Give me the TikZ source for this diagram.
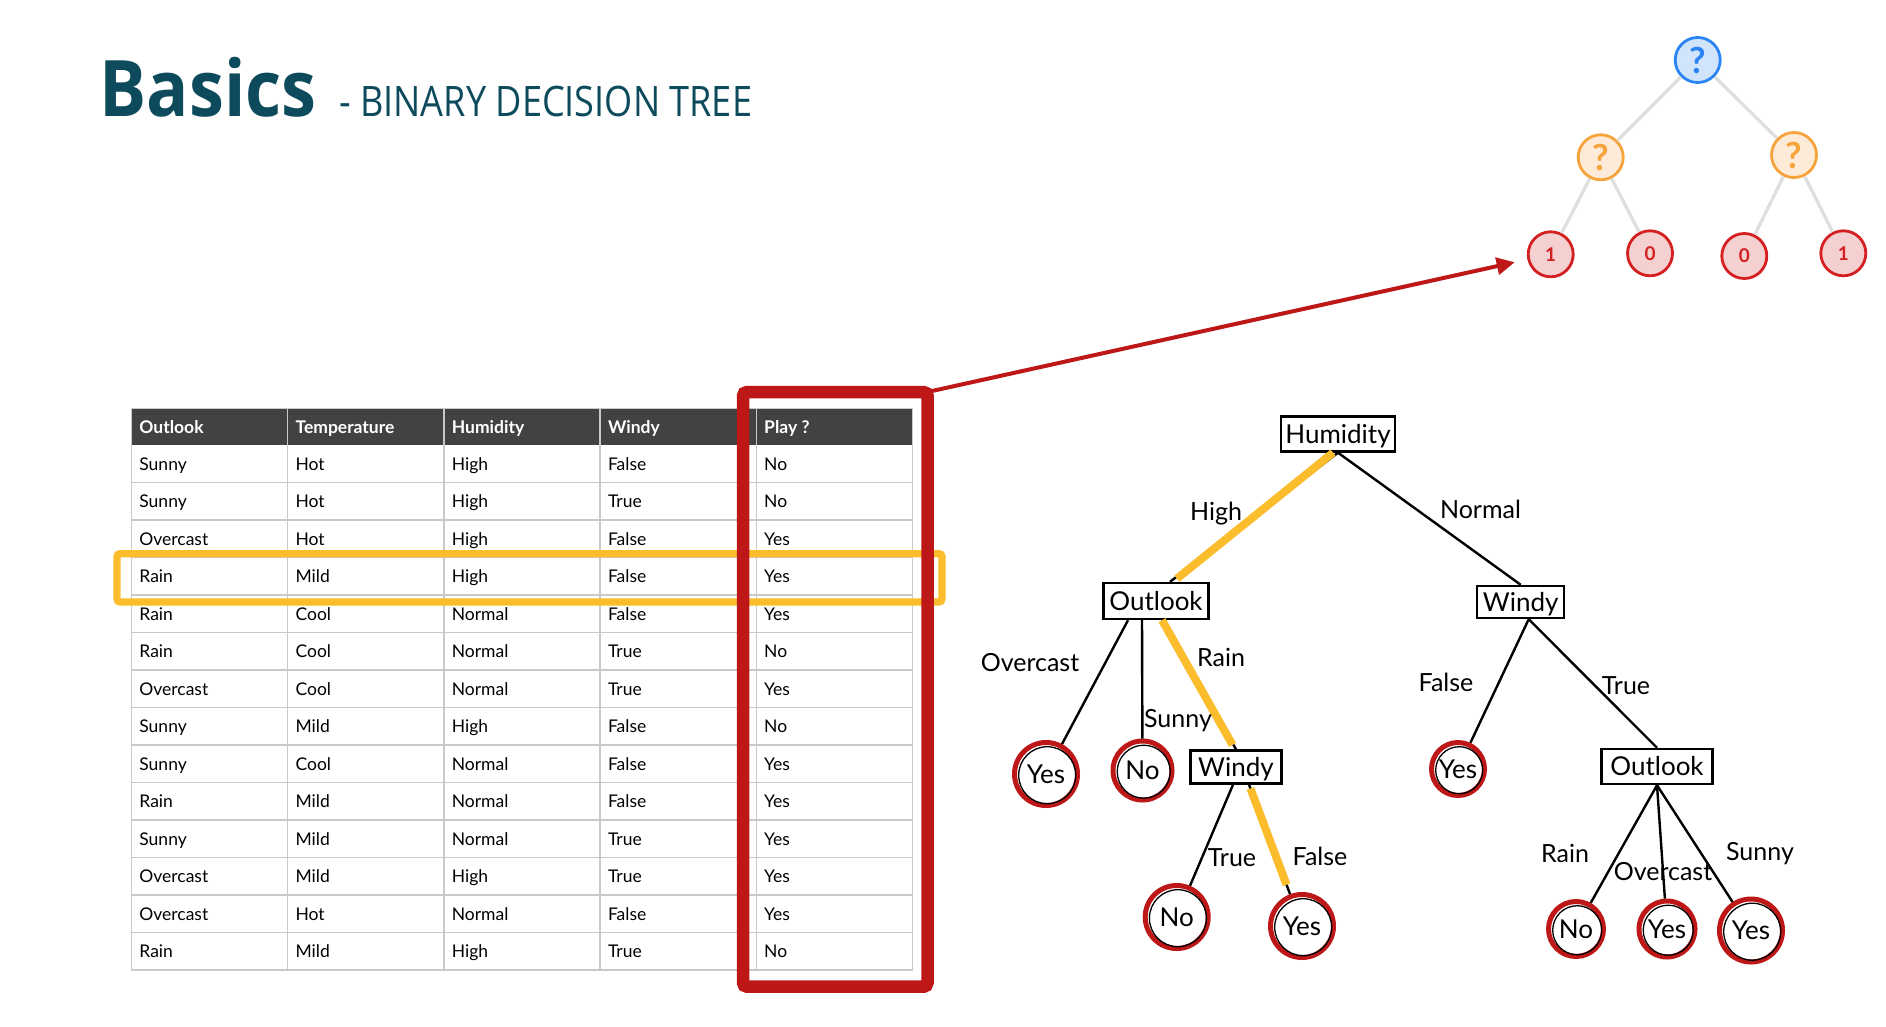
\documentclass[tikz,border=0pt]{standalone}
\usepackage{fontspec}
\setmainfont{Lato}
\newfontfamily\titlefontB[FakeStretch=0.9]{Open Sans}
\newfontfamily\titlefontS[FakeStretch=0.86]{Open Sans}
\usetikzlibrary{arrows.meta}
\definecolor{titlecol}{HTML}{0D4B5C}
\definecolor{boxred}{HTML}{BE1717}
\definecolor{hl}{HTML}{FBBD2C}
\definecolor{hdrgray}{HTML}{424242}
\definecolor{gridcol}{HTML}{C9C9C9}
\definecolor{qblue}{HTML}{2A85F2}
\definecolor{qbluefill}{HTML}{D0E4FC}
\definecolor{qorange}{HTML}{F5A33A}
\definecolor{qorangefill}{HTML}{FDEBD8}
\definecolor{qred}{HTML}{D42020}
\definecolor{qredfill}{HTML}{F4D0D0}
\definecolor{edgegray}{HTML}{DFDFDF}
\newcommand\tabfont{\fontsize{17.5}{20}\selectfont}
\newcommand\treefont{\fontsize{26}{30}\selectfont}
\newcommand\lblfont{\fontsize{25}{30}\selectfont}
\begin{document}
\begin{tikzpicture}[x=1pt,y=-1pt,
  cell/.style={anchor=base west, inner sep=0pt, font=\tabfont},
  hdr/.style={anchor=base west, inner sep=0pt, text=white, font=\bfseries\tabfont},
  gridline/.style={draw=gridcol, line width=1.4pt},
  qnode/.style={circle, line width=2.8pt, minimum size=45pt, inner sep=0pt},
  qtxt/.style={font=\bfseries\fontsize{36}{38}\selectfont},
  btxt/.style={font=\bfseries\fontsize{19}{20}\selectfont},
  medge/.style={draw=edgegray, line width=3.3pt},
  dbox/.style={draw=black, line width=2.4pt, inner sep=0pt, font=\treefont, text height=18.5pt, text depth=0pt},
  leaf/.style={circle, draw=boxred, line width=5pt, fill=white, inner sep=0pt, font=\treefont, text height=18.5pt, text depth=0pt},
  tedge/.style={draw=black, line width=2.4pt},
  oedge/.style={draw=hl, line width=8pt},
  lbl/.style={anchor=base, inner sep=0pt, font=\lblfont},
  arr/.style={draw=boxred, line width=4pt, -{Triangle[length=18pt,width=17pt]}}
]
\useasboundingbox (0,0) rectangle (1886,1027);
\fill[white] (0,0) rectangle (1886,1027);

% ---------- title ----------
\node[anchor=base west, inner sep=0pt, text=titlecol, font=\titlefontB\bfseries\fontsize{78}{80}\selectfont] (title) at (99.5,117) {Basics};
\node[anchor=base west, inner sep=0pt, text=titlecol, font=\titlefontS\fontsize{42}{44}\selectfont] (subtitle) at (339,117) {- BINARY DECISION TREE};

% ---------- table ----------
\fill[hdrgray] (131.5,408.5) rectangle (912.5,445);
\foreach \k in {1,...,13} \draw[gridline] (131.5,{445+37.5*\k}) -- (912.5,{445+37.5*\k});
\foreach \x in {287.7,443.9,600.1,756.3} \draw[gridline] (\x,408.5) -- (\x,970);
\draw[gridline] (131.5,408.5) rectangle (912.5,970);
\foreach \t [count=\i from 0] in {Outlook,Temperature,Humidity,Windy,Play ?}
  \node[hdr] (h\i) at ({139.2+156.2*\i},433) {\t};
\foreach \a/\b/\c/\d/\e [count=\i] in {
  Sunny/Hot/High/False/No, Sunny/Hot/High/True/No, Overcast/Hot/High/False/Yes,
  Rain/Mild/High/False/Yes, Rain/Cool/Normal/False/Yes, Rain/Cool/Normal/True/No,
  Overcast/Cool/Normal/True/Yes, Sunny/Mild/High/False/No, Sunny/Cool/Normal/False/Yes,
  Rain/Mild/Normal/False/Yes, Sunny/Mild/Normal/True/Yes, Overcast/Mild/High/True/Yes,
  Overcast/Hot/Normal/False/Yes, Rain/Mild/High/True/No}{
  \pgfmathsetmacro\yb{445+37.5*(\i-0.5)+6.3}
  \node[cell] (r\i-1) at (139.2,\yb) {\a};
  \node[cell] (r\i-2) at (295.4,\yb) {\b};
  \node[cell] (r\i-3) at (451.6,\yb) {\c};
  \node[cell] (r\i-4) at (607.8,\yb) {\d};
  \node[cell] (r\i-5) at (764.0,\yb) {\e};
}

% highlight boxes
\node[draw=hl, line width=7.3pt, rounded corners=3pt, outer sep=0pt, inner sep=0pt,
      minimum width=825pt, minimum height=48.3pt] (hlbox) at (529.5,577.85) {};
\node[draw=boxred, line width=12.5pt, rounded corners=4pt, outer sep=0pt, inner sep=0pt,
      minimum width=184.5pt, minimum height=594.7pt] (redbox) at (835.25,689.35) {};

% ---------- mini tree ----------
\node[qnode, draw=qblue, fill=qbluefill, text=qblue, qtxt] (m0) at (1697.7,60) {?};
\node[qnode, draw=qorange, fill=qorangefill, text=qorange, qtxt] (mL) at (1600.7,157.3) {?};
\node[qnode, draw=qorange, fill=qorangefill, text=qorange, qtxt] (mR) at (1794,155) {?};
\node[qnode, draw=qred, fill=qredfill, text=qred, btxt] (m1) at (1550.7,254.3) {1};
\node[qnode, draw=qred, fill=qredfill, text=qred, btxt] (m2) at (1650,253.3) {0};
\node[qnode, draw=qred, fill=qredfill, text=qred, btxt] (m3) at (1744.3,256) {0};
\node[qnode, draw=qred, fill=qredfill, text=qred, btxt] (m4) at (1843.3,253.3) {1};
\draw[medge] (m0) -- (mL);
\draw[medge] (m0) -- (mR);
\draw[medge] (mL) -- (m1);
\draw[medge] (mL) -- (m2);
\draw[medge] (mR) -- (m3);
\draw[medge] (mR) -- (m4);

\draw[arr, shorten >=13pt] (redbox.north east) -- (m1);

% ---------- decision tree ----------
\node[dbox, minimum width=114pt, minimum height=35pt] (hum) at (1338,434) {Humidity};
\node[dbox, minimum width=105pt, minimum height=36pt] (outL) at (1156,601) {Outlook};
\node[dbox, minimum width=87pt, minimum height=32pt] (windyR) at (1520.7,602) {Windy};
\node[dbox, minimum width=91pt, minimum height=33pt] (windyM) at (1236,767) {Windy};
\node[dbox, minimum width=111pt, minimum height=35pt] (outR) at (1657,766.5) {Outlook};

\node[leaf, minimum size=63pt] (yesL) at (1046,774) {Yes};
\node[leaf, minimum size=59pt] (noL) at (1142.5,770.5) {No};
\node[leaf, minimum size=63pt] (noM) at (1176.7,917) {No};
\node[leaf, minimum size=63pt] (yesM) at (1302,926) {Yes};
\node[leaf, minimum size=53pt] (yesR) at (1458,769) {Yes};
\node[leaf, minimum size=55pt] (noR) at (1576,929) {No};
\node[leaf, minimum size=56pt] (yesR2) at (1667,929) {Yes};
\node[leaf, minimum size=63pt] (yesR3) at (1751,930.5) {Yes};
\foreach \n/\r in {yesL/28.5,noL/26.5,noM/28.5,yesM/28.5,yesR/23.5,noR/24.5,yesR2/25,yesR3/28.5}
  \draw[black, line width=1.3pt] ([shift={(1.2pt,-1.2pt)}]\n.center) circle[radius=\r];

% edges
\draw[tedge] (hum.south) -- ([xshift=14pt]outL.north);
\draw[oedge, shorten >=5pt] ([xshift=-5pt]hum.south) -- ([xshift=17pt]outL.north);
\draw[tedge] (hum.south) -- (windyR.north);
\draw[tedge] ([xshift=-28pt]outL.south) -- (yesL);
\draw[tedge] ([xshift=-14pt]outL.south) -- (noL);
\draw[tedge] ([xshift=6pt]outL.south) -- (windyM.north);
\draw[oedge, shorten >=5pt] ([xshift=6pt]outL.south) -- ([xshift=-1pt]windyM.north);
\draw[tedge] ([xshift=-3pt]windyM.south) -- (noM);
\draw[tedge] ([xshift=13pt]windyM.south) -- (yesM);
\draw[oedge, shorten <=4pt, shorten >=10pt] ([xshift=13pt]windyM.south) -- (yesM);
\draw[tedge] ([xshift=8pt]windyR.south) -- (yesR);
\draw[tedge] ([xshift=8pt]windyR.south) -- (outR.north);
\draw[tedge] (outR.south) -- (noR);
\draw[tedge] (outR.south) -- (yesR2);
\draw[tedge] (outR.south) -- (yesR3);

% labels
\node[lbl] (lHigh) at (1216,520) {High};
\node[lbl] (lNormal) at (1480.5,518) {Normal};
\node[lbl] (lOverL) at (1030,671.7) {Overcast};
\node[lbl] (lRainL) at (1221,666.7) {Rain};
\node[lbl] (lSunnyL) at (1178,727) {Sunny};
\node[lbl] (lTrueM) at (1232,866) {True};
\node[lbl] (lFalseM) at (1320,865) {False};
\node[lbl] (lFalseR) at (1446,691.7) {False};
\node[lbl] (lTrueR) at (1626,694) {True};
\node[lbl] (lRainR) at (1565,862) {Rain};
\node[lbl] (lOverR) at (1663,880) {Overcast};
\node[lbl] (lSunnyR) at (1760,860) {Sunny};
\end{tikzpicture}
\end{document}
